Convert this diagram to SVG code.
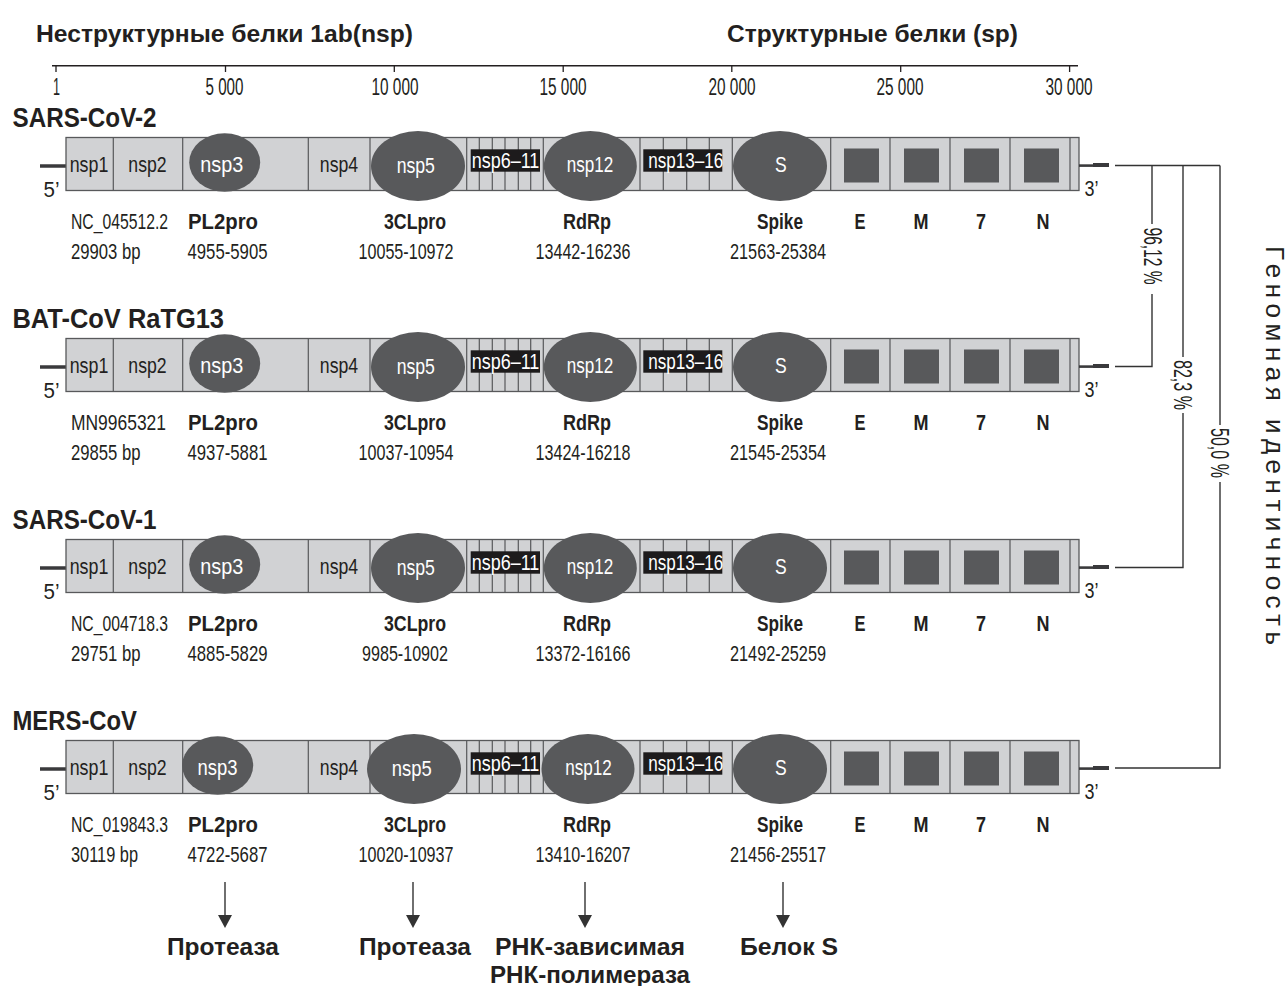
<svg xmlns="http://www.w3.org/2000/svg" xmlns:xlink="http://www.w3.org/1999/xlink" width="1288" height="986" viewBox="0 0 1288 986">
<style>
text{font-family:"Liberation Sans",Arial,sans-serif;fill:#231f20}
.b{font-weight:bold}
.hd{font-size:24.5px;font-weight:bold}
.ax{font-size:24px;text-anchor:middle}
.tt{font-size:27px;font-weight:bold}
.lb{font-size:22.5px;text-anchor:middle}
.w{fill:#fff}
.r{font-size:22px}
.rc{font-size:22px;text-anchor:middle}
.pc{font-size:26px;text-anchor:middle}
.bt{font-size:24px;font-weight:bold;text-anchor:middle}
.bar{fill:#d1d2d4;stroke:#58595b;stroke-width:1.3}
.dv{stroke:#58595b;stroke-width:1.2}
.sq{fill:#58595b}
.el{fill:#58595b}
.bx{fill:#1d1b1c}
.ln{stroke:#333;fill:none;stroke-width:1.4}
.end{stroke:#3a3a3c;fill:none}
</style>
<defs>
<marker id="ah" markerUnits="userSpaceOnUse" markerWidth="13" markerHeight="14" refX="0" refY="7" orient="auto">
<path d="M0,0 L13,7 L0,14 z" fill="#333"/>
</marker>
<g id="bar">
<line class="end" x1="40" y1="166" x2="66" y2="166" stroke-width="3.5"/>
<rect class="bar" x="66" y="137.5" width="1013" height="53"/>
<path class="dv" d="M113.3,137.5V190.5M182.7,137.5V190.5M308.3,137.5V190.5M370,137.5V190.5M466.7,137.5V190.5M479.3,137.5V190.5M492.3,137.5V190.5M505,137.5V190.5M518.3,137.5V190.5M530.7,137.5V190.5M543.3,137.5V190.5M640,137.5V190.5M663.3,137.5V190.5M686.7,137.5V190.5M709.3,137.5V190.5M732.3,137.5V190.5M830.7,137.5V190.5M890,137.5V190.5M950,137.5V190.5M1010,137.5V190.5M1070,137.5V190.5"/>
<rect class="sq" x="844" y="148.5" width="35" height="34"/>
<rect class="sq" x="904" y="148.5" width="35" height="34"/>
<rect class="sq" x="964" y="148.5" width="35" height="34"/>
<rect class="sq" x="1024" y="148.5" width="35" height="34"/>
<rect class="bx" x="470.7" y="149.3" width="69.3" height="22.4"/>
<rect class="bx" x="643.3" y="149.3" width="79" height="22.4"/>
<line class="end" x1="1079" y1="165.6" x2="1093" y2="165.6" stroke-width="2.6"/>
<line class="end" x1="1093" y1="165" x2="1109" y2="165" stroke-width="4"/>
<text class="lb" x="89" y="172" textLength="38.7" lengthAdjust="spacingAndGlyphs">nsp1</text>
<text class="lb" x="147.5" y="172" textLength="38.3" lengthAdjust="spacingAndGlyphs">nsp2</text>
<text class="lb" x="339" y="172" textLength="38.3" lengthAdjust="spacingAndGlyphs">nsp4</text>
<text class="lb w" x="505.5" y="168.3" textLength="67.6" lengthAdjust="spacingAndGlyphs">nsp6–11</text>
<text class="lb w" x="685.8" y="168.3" textLength="75" lengthAdjust="spacingAndGlyphs">nsp13–16</text>
<text class="lb" x="51.5" y="197" textLength="16" lengthAdjust="spacingAndGlyphs">5’</text>
<text class="lb" x="1091.5" y="196" textLength="14" lengthAdjust="spacingAndGlyphs">3’</text>
<text class="b rc" x="860" y="229" textLength="11" lengthAdjust="spacingAndGlyphs">E</text>
<text class="b rc" x="921" y="229" textLength="15" lengthAdjust="spacingAndGlyphs">M</text>
<text class="b rc" x="981" y="229" textLength="10" lengthAdjust="spacingAndGlyphs">7</text>
<text class="b rc" x="1043" y="229" textLength="13" lengthAdjust="spacingAndGlyphs">N</text>
<text class="b rc" x="223" y="229" textLength="70" lengthAdjust="spacingAndGlyphs">PL2pro</text>
<text class="b rc" x="415" y="229" textLength="62" lengthAdjust="spacingAndGlyphs">3CLpro</text>
<text class="b rc" x="587" y="229" textLength="48" lengthAdjust="spacingAndGlyphs">RdRp</text>
<text class="b rc" x="780" y="229" textLength="46" lengthAdjust="spacingAndGlyphs">Spike</text>
</g>
<g id="ovals">
<ellipse class="el" cx="224.7" cy="162.5" rx="35.5" ry="29.3"/>
<ellipse class="el" cx="418" cy="166" rx="47" ry="35"/>
<ellipse class="el" cx="590.3" cy="166" rx="46.5" ry="35"/>
<ellipse class="el" cx="780" cy="166" rx="47" ry="35"/>
<text class="lb w" x="221.7" y="172" textLength="43" lengthAdjust="spacingAndGlyphs">nsp3</text>
<text class="lb w" x="415.8" y="172.5" textLength="38.3" lengthAdjust="spacingAndGlyphs">nsp5</text>
<text class="lb w" x="590" y="171.7" textLength="46.6" lengthAdjust="spacingAndGlyphs">nsp12</text>
<text class="lb w" x="780.8" y="171.7" textLength="11.7" lengthAdjust="spacingAndGlyphs">S</text>
</g>
</defs>

<g id="headers">
<text class="hd" x="36" y="41.5" textLength="377" lengthAdjust="spacingAndGlyphs">Неструктурные белки 1ab(nsp)</text>
<text class="hd" x="727" y="41.5" textLength="291" lengthAdjust="spacingAndGlyphs">Структурные белки (sp)</text>
</g>

<g id="scale">
<line x1="52" y1="65.7" x2="1078" y2="65.7" stroke="#231f20" stroke-width="1.5"/>
<path d="M56,65.7V72M225.5,65.7V72M394.3,65.7V72M563.2,65.7V72M731.8,65.7V72M900.7,65.7V72M1069.6,65.7V72" stroke="#231f20" stroke-width="1.3"/>
<text class="ax" x="56.5" y="95" textLength="7" lengthAdjust="spacingAndGlyphs">1</text>
<text class="ax" x="224.5" y="95" textLength="38" lengthAdjust="spacingAndGlyphs">5 000</text>
<text class="ax" x="395" y="95" textLength="47" lengthAdjust="spacingAndGlyphs">10 000</text>
<text class="ax" x="563" y="95" textLength="47" lengthAdjust="spacingAndGlyphs">15 000</text>
<text class="ax" x="732" y="95" textLength="47" lengthAdjust="spacingAndGlyphs">20 000</text>
<text class="ax" x="900" y="95" textLength="47" lengthAdjust="spacingAndGlyphs">25 000</text>
<text class="ax" x="1069" y="95" textLength="47" lengthAdjust="spacingAndGlyphs">30 000</text>
</g>

<g id="sars-cov-2">
<text class="tt" x="12.5" y="126.7" textLength="144" lengthAdjust="spacingAndGlyphs">SARS-CoV-2</text>
<use xlink:href="#bar"/>
<use xlink:href="#ovals"/>
<text class="r" x="71" y="229" textLength="97" lengthAdjust="spacingAndGlyphs">NC_045512.2</text>
<text class="r" x="71" y="259" textLength="69.5" lengthAdjust="spacingAndGlyphs">29903 bp</text>
<text class="rc" x="227.5" y="259" textLength="80" lengthAdjust="spacingAndGlyphs">4955-5905</text>
<text class="rc" x="406" y="259" textLength="95" lengthAdjust="spacingAndGlyphs">10055-10972</text>
<text class="rc" x="583" y="259" textLength="95" lengthAdjust="spacingAndGlyphs">13442-16236</text>
<text class="rc" x="778" y="259" textLength="96" lengthAdjust="spacingAndGlyphs">21563-25384</text>
</g>

<g id="bat-cov-ratg13">
<text class="tt" x="12.5" y="327.7" textLength="211.5" lengthAdjust="spacingAndGlyphs">BAT-CoV RaTG13</text>
<use xlink:href="#bar" y="201"/>
<use xlink:href="#ovals" y="201"/>
<text class="r" x="71" y="430" textLength="95" lengthAdjust="spacingAndGlyphs">MN9965321</text>
<text class="r" x="71" y="460" textLength="69.5" lengthAdjust="spacingAndGlyphs">29855 bp</text>
<text class="rc" x="227.5" y="460" textLength="80" lengthAdjust="spacingAndGlyphs">4937-5881</text>
<text class="rc" x="406" y="460" textLength="95" lengthAdjust="spacingAndGlyphs">10037-10954</text>
<text class="rc" x="583" y="460" textLength="95" lengthAdjust="spacingAndGlyphs">13424-16218</text>
<text class="rc" x="778" y="460" textLength="96" lengthAdjust="spacingAndGlyphs">21545-25354</text>
</g>

<g id="sars-cov-1">
<text class="tt" x="12.5" y="528.7" textLength="144" lengthAdjust="spacingAndGlyphs">SARS-CoV-1</text>
<use xlink:href="#bar" y="402"/>
<use xlink:href="#ovals" y="402"/>
<text class="r" x="71" y="631" textLength="97" lengthAdjust="spacingAndGlyphs">NC_004718.3</text>
<text class="r" x="71" y="661" textLength="69.5" lengthAdjust="spacingAndGlyphs">29751 bp</text>
<text class="rc" x="227.5" y="661" textLength="80" lengthAdjust="spacingAndGlyphs">4885-5829</text>
<text class="rc" x="405" y="661" textLength="86" lengthAdjust="spacingAndGlyphs">9985-10902</text>
<text class="rc" x="583" y="661" textLength="95" lengthAdjust="spacingAndGlyphs">13372-16166</text>
<text class="rc" x="778" y="661" textLength="96" lengthAdjust="spacingAndGlyphs">21492-25259</text>
</g>

<g id="mers-cov">
<text class="tt" x="12.5" y="729.7" textLength="124.5" lengthAdjust="spacingAndGlyphs">MERS-CoV</text>
<use xlink:href="#bar" y="603"/>
<ellipse class="el" cx="217.7" cy="765.5" rx="35.5" ry="29.3"/>
<ellipse class="el" cx="414" cy="769" rx="47" ry="35"/>
<ellipse class="el" cx="588" cy="769" rx="46.5" ry="35"/>
<ellipse class="el" cx="780" cy="769" rx="47" ry="35"/>
<text class="lb w" x="217.5" y="775" textLength="40" lengthAdjust="spacingAndGlyphs">nsp3</text>
<text class="lb w" x="411.7" y="775.5" textLength="40" lengthAdjust="spacingAndGlyphs">nsp5</text>
<text class="lb w" x="588.5" y="774.7" textLength="46.6" lengthAdjust="spacingAndGlyphs">nsp12</text>
<text class="lb w" x="780.8" y="774.7" textLength="11.7" lengthAdjust="spacingAndGlyphs">S</text>
<text class="r" x="71" y="832" textLength="97" lengthAdjust="spacingAndGlyphs">NC_019843.3</text>
<text class="r" x="71" y="862" textLength="67" lengthAdjust="spacingAndGlyphs">30119 bp</text>
<text class="rc" x="227.5" y="862" textLength="80" lengthAdjust="spacingAndGlyphs">4722-5687</text>
<text class="rc" x="406" y="862" textLength="95" lengthAdjust="spacingAndGlyphs">10020-10937</text>
<text class="rc" x="583" y="862" textLength="95" lengthAdjust="spacingAndGlyphs">13410-16207</text>
<text class="rc" x="778" y="862" textLength="96" lengthAdjust="spacingAndGlyphs">21456-25517</text>
</g>

<g id="connectors">
<path class="ln" d="M1115,165.5H1220M1152,165.5V366.5H1115M1183,165.5V567.5H1115M1220,165.5V768H1115"/>
<rect x="1138" y="224" width="28" height="70" fill="#fff"/>
<rect x="1169" y="357" width="28" height="56" fill="#fff"/>
<rect x="1206" y="425" width="28" height="57" fill="#fff"/>
<text class="pc" transform="translate(1153,256) rotate(90)" x="0" y="9" textLength="57" lengthAdjust="spacingAndGlyphs">96,12 %</text>
<text class="pc" transform="translate(1183,385) rotate(90)" x="0" y="9" textLength="50" lengthAdjust="spacingAndGlyphs">82,3 %</text>
<text class="pc" transform="translate(1220,453) rotate(90)" x="0" y="9" textLength="50" lengthAdjust="spacingAndGlyphs">50,0 %</text>
<line class="ln" x1="225" y1="882" x2="225" y2="915" marker-end="url(#ah)"/>
<line class="ln" x1="413" y1="882" x2="413" y2="915" marker-end="url(#ah)"/>
<line class="ln" x1="585" y1="882" x2="585" y2="915" marker-end="url(#ah)"/>
<line class="ln" x1="783" y1="882" x2="783" y2="915" marker-end="url(#ah)"/>
</g>

<g id="identity-label">
<text transform="translate(1266,246) rotate(90)" x="0" y="0" font-size="26" fill="#333" textLength="399" lengthAdjust="spacing">Геномная идентичность</text>
</g>

<g id="functions">
<text class="bt" x="223" y="955" textLength="112" lengthAdjust="spacingAndGlyphs">Протеаза</text>
<text class="bt" x="415" y="955" textLength="112" lengthAdjust="spacingAndGlyphs">Протеаза</text>
<text class="bt" x="590" y="955" textLength="190" lengthAdjust="spacingAndGlyphs">РНК-зависимая</text>
<text class="bt" x="590" y="983" textLength="200" lengthAdjust="spacingAndGlyphs">РНК-полимераза</text>
<text class="bt" x="789" y="955" textLength="98" lengthAdjust="spacingAndGlyphs">Белок S</text>
</g>
</svg>
